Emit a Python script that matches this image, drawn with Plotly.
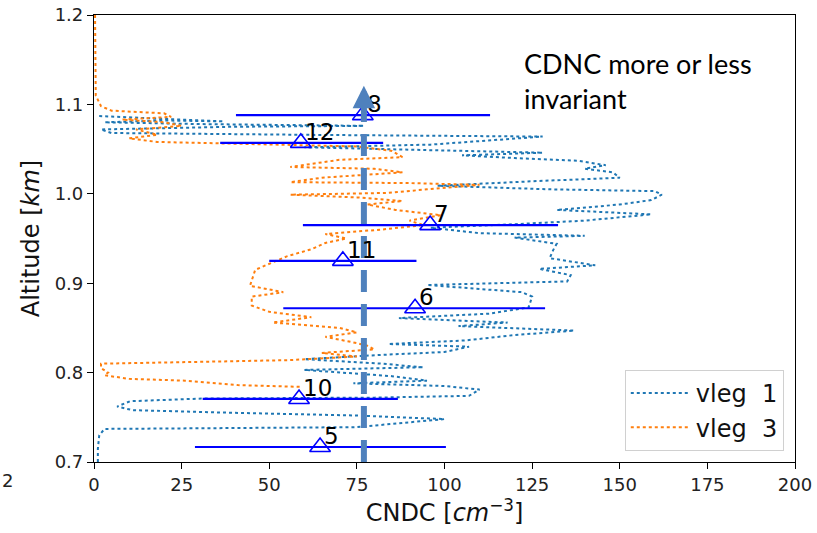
import plotly.graph_objects as go

# ---- profile data (CNDC [cm^-3], altitude [km]) ----
vleg1_cndc = [1.1, 1.1, 1.5, 3, 40, 75, 100, 75, 40, 11, 6.6, 10.3, 31, 80, 107, 110, 100, 74, 95, 85,
              60, 94, 82, 60, 83, 100, 107, 84, 106, 120, 137, 104, 118, 87, 113, 124, 125, 122, 95, 115,
              135, 136, 127, 143, 130, 131, 132, 120, 140, 110, 96, 120, 140, 159, 132, 150, 159, 162, 160, 130,
              98, 125, 150, 148, 140, 146, 138, 120, 105, 128, 90, 60, 96, 128, 60, 5, 2, 40, 77, 30,
              3, 20, 37, 10, 1]
vleg1_alt = [0.700, 0.715, 0.730, 0.737, 0.738, 0.739, 0.748, 0.752, 0.755, 0.758, 0.762, 0.768, 0.771, 0.772, 0.774, 0.781, 0.785, 0.788, 0.791, 0.796,
             0.803, 0.806, 0.810, 0.815, 0.820, 0.823, 0.829, 0.832, 0.836, 0.842, 0.847, 0.852, 0.856, 0.861, 0.866, 0.873, 0.885, 0.890, 0.898, 0.900,
             0.902, 0.909, 0.916, 0.920, 0.928, 0.937, 0.944, 0.951, 0.953, 0.956, 0.962, 0.966, 0.970, 0.977, 0.982, 0.988, 0.993, 0.999, 1.003, 1.005,
             1.009, 1.014, 1.018, 1.024, 1.028, 1.032, 1.037, 1.040, 1.043, 1.046, 1.049, 1.052, 1.055, 1.064, 1.066, 1.068, 1.072, 1.075, 1.076, 1.078,
             1.080, 1.082, 1.081, 1.085, 1.087]

vleg3_cndc = [0.3, 0.3, 0.5, 2, 5, 20, 22, 8, 20, 25, 12, 18, 10, 18, 50, 75, 85, 88, 70, 56,
              80, 88, 65, 56, 90, 110, 95, 84, 56, 75, 88, 78, 86, 99, 90, 94, 82, 66, 72, 66,
              62, 55, 46, 44.5, 50, 54, 45, 45, 50, 62, 51, 70, 75, 66, 75, 78, 80, 65, 75, 56,
              30, 2, 2, 4, 3, 10, 26, 35, 41, 50, 59]
vleg3_alt = [1.200, 1.150, 1.110, 1.098, 1.093, 1.090, 1.086, 1.083, 1.080, 1.076, 1.072, 1.066, 1.062, 1.058, 1.055, 1.053, 1.048, 1.041, 1.038, 1.030,
             1.028, 1.024, 1.018, 1.013, 1.012, 1.010, 1.005, 1.001, 0.999, 0.996, 0.992, 0.988, 0.982, 0.976, 0.970, 0.965, 0.960, 0.955, 0.950, 0.945,
             0.938, 0.930, 0.915, 0.897, 0.893, 0.890, 0.885, 0.875, 0.868, 0.862, 0.856, 0.850, 0.845, 0.840, 0.833, 0.830, 0.826, 0.822, 0.818, 0.814,
             0.812, 0.810, 0.805, 0.800, 0.797, 0.793, 0.791, 0.788, 0.786, 0.785, 0.784]

# ---- leg means with spread ----
leg_labels = ["8", "12", "7", "11", "6", "10", "5"]
leg_cndc = [76.7, 59.0, 95.9, 71.0, 91.6, 58.5, 64.5]
leg_alt = [1.088, 1.057, 0.965, 0.925, 0.872, 0.7705, 0.7168]
leg_low = [40.5, 36.0, 59.6, 50.0, 54.0, 31.0, 28.8]
leg_high = [113.0, 82.5, 132.4, 92.0, 128.7, 86.7, 100.4]

arrow_x = [77, 77]
arrow_alt = [0.70, 1.121]

x_ticks = [0, 25, 50, 75, 100, 125, 150, 175, 200]
y_ticks = [0.7, 0.8, 0.9, 1.0, 1.1, 1.2]

fig = go.Figure()
fig.add_trace(go.Scatter(x=vleg1_cndc, y=vleg1_alt, mode="lines", name="vleg  1",
                         line=dict(color="#1f77b4", width=2, dash="dot")))
fig.add_trace(go.Scatter(x=vleg3_cndc, y=vleg3_alt, mode="lines", name="vleg  3",
                         line=dict(color="#ff7f0e", width=2, dash="dot")))

err_plus = [h - c for h, c in zip(leg_high, leg_cndc)]
err_minus = [c - l for l, c in zip(leg_low, leg_cndc)]
fig.add_trace(go.Scatter(x=leg_cndc, y=leg_alt, mode="markers", showlegend=False,
                         marker=dict(symbol="triangle-up-open", size=18, color="#0000ff",
                                     line=dict(width=1.6, color="#0000ff")),
                         error_x=dict(type="data", symmetric=False, array=err_plus, arrayminus=err_minus,
                                      color="#0000ff", thickness=2.2, width=0)))

# dashed arrow shaft
fig.add_trace(go.Scatter(x=arrow_x, y=[arrow_alt[0], arrow_alt[1] - 0.018], mode="lines", showlegend=False,
                         line=dict(color="#4f81bd", width=6, dash="22px,12px")))

annotations = []
for lab, cx, ca in zip(leg_labels, leg_cndc, leg_alt):
    annotations.append(dict(x=cx, y=ca, text=lab, showarrow=False, xanchor="left", yanchor="middle",
                            xshift=2, yshift=11, font=dict(family="DejaVu Sans", size=23, color="black")))
annotations.append(dict(x=arrow_x[1], y=arrow_alt[1], ax=arrow_x[0], ay=arrow_alt[1] - 0.025,
                        xref="x", yref="y", axref="x", ayref="y", showarrow=True,
                        arrowhead=2, arrowsize=0.75, arrowwidth=6, arrowcolor="#4f81bd", text=""))
annotations.append(dict(x=522, y=81, xref="paper", yref="paper", text="CDNC more or less<br>invariant",
                        showarrow=False, align="left", xanchor="left", yanchor="middle",
                        font=dict(family="Lato", size=27, color="black")))
annotations.append(dict(x=0, y=480, text="2", showarrow=False, xanchor="left", yanchor="middle",
                        font=dict(family="DejaVu Sans", size=18, color="#222")))

# convert pixel-placed annotations to paper coords
L, R, T, B = 94, 22, 15, 71
W, H = 817, 533
pw, ph = W - L - R, H - T - B
annotations[-2]["x"] = (522 - L) / pw
annotations[-2]["y"] = 1 - (81 - T) / ph
annotations[-1]["xref"] = "paper"
annotations[-1]["yref"] = "paper"
annotations[-1]["x"] = (0 - L) / pw
annotations[-1]["y"] = 1 - (480 - T) / ph

fig.update_layout(
    width=W, height=H,
    margin=dict(l=L, r=R, t=T, b=B, autoexpand=False),
    paper_bgcolor="white", plot_bgcolor="white",
    font=dict(family="DejaVu Sans", color="#222"),
    annotations=annotations,
    legend=dict(x=0.984, y=0.025, xanchor="right", yanchor="bottom",
                bgcolor="white", bordercolor="#d0d0d0", borderwidth=1,
                font=dict(family="DejaVu Sans", size=24, color="#111"), itemwidth=60),
    xaxis=dict(range=[0, 200], tickvals=x_ticks, ticktext=[str(t) for t in x_ticks], automargin=False,
               showgrid=False, zeroline=False, showline=True, linecolor="black", linewidth=1.2,
               mirror=True, ticks="outside", ticklen=6, tickcolor="black",
               tickfont=dict(size=18, family="DejaVu Sans", color="#222"),
               title=dict(text="CNDC [<i>cm</i><sup>−3</sup>]", font=dict(size=24, family="DejaVu Sans", color="#111"),
                          standoff=8)),
    yaxis=dict(range=[0.7, 1.2], tickvals=y_ticks, ticktext=[f"{t:.1f}" for t in y_ticks], automargin=False,
               showgrid=False, zeroline=False, showline=True, linecolor="black", linewidth=1.2,
               mirror=True, ticks="outside", ticklen=6, tickcolor="black",
               tickfont=dict(size=18, family="DejaVu Sans", color="#222"),
               title=dict(text="Altitude [<i>km</i>]", font=dict(size=24, family="DejaVu Sans", color="#111"),
                          standoff=8)),
)

fig.write_html("out.html")
